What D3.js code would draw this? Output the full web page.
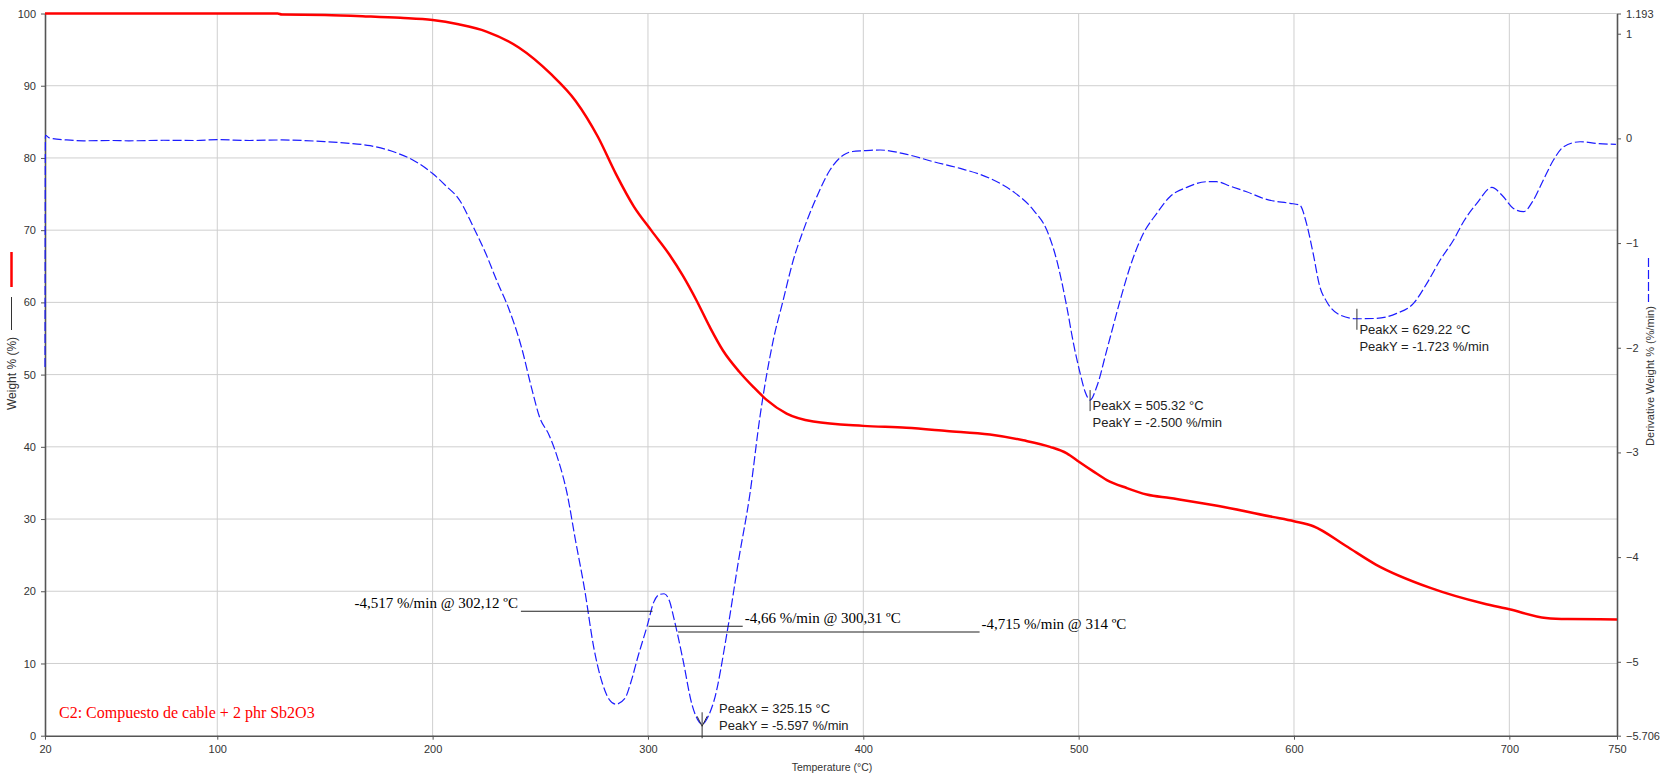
<!DOCTYPE html>
<html>
<head>
<meta charset="utf-8">
<script src="https://cdn.jsdelivr.net/npm/d3@7"></script>
<style>
  html, body { margin: 0; padding: 0; background: #fff; }
  svg { display: block; }
</style>
</head>
<body>
<svg id="chart" width="1661" height="779"></svg>
<script>
// ---------------- DATA ----------------
// Weight % (TGA) curve: [temperature °C, weight %]
const weightT = [20,60,100,128,130,150,170,185,200,212,225,240,255,266.4,276.8,285.1,293.4,301.7,310,316.2,322.5,328.7,334.9,342.4,348.9,355.1,364.4,376.8,400,420,438.8,458.8,474.3,486.7,494.5,500.3,506.8,513.1,522.3,531.6,542.4,565,590,600,609,624,638,663,688,700,717,727,750];
const weightV = [100,100,100,100,99.85,99.8,99.6,99.4,99.1,98.5,97.5,95.3,91.6,87.9,82.9,77.8,73.3,69.9,66.6,63.7,60.3,56.6,53.3,50.4,48.3,46.5,44.6,43.5,42.9,42.65,42.2,41.7,40.9,40.0,39.1,37.9,36.6,35.4,34.3,33.4,32.9,31.8,30.3,29.7,29.0,26.3,23.7,20.5,18.3,17.5,16.3,16.15,16.1];

// Derivative weight curve: [temperature °C, %/min]
const derivT = [20,20.2,22,30,38,50,59,75,90,100,115,130,150,160,171,183.5,192,200,206,212.5,218.8,225,230,235.3,241.5,245.7,249.9,254,258.2,262.3,266.4,270.6,274.8,278.9,282,285.1,289.3,292,295.5,299.6,302.7,305,307.5,310,312,316.2,320.4,323,325.15,328,330.7,336.9,342,347.4,352,358.2,362.8,367.5,372.2,378.4,384.6,390.8,395,400,407.8,420.2,432.6,445,458.8,469.7,479,485.2,489.8,494.5,497.6,500.7,503,505.32,508.4,513.1,519.3,523.9,530.1,536.3,542.4,550.2,559.5,564.1,570.2,578,587.3,598.1,602.7,605.8,608.9,612,615.2,621.4,629.22,638.4,647.7,655.5,661.7,667.9,674.1,678.7,684.9,691.9,696.5,701.9,706.6,711.2,715.8,720.5,725.2,732.9,740.7,749.5];
const derivV = [-2.185,0.03,0.005,-0.015,-0.023,-0.02,-0.023,-0.018,-0.02,-0.012,-0.02,-0.015,-0.031,-0.045,-0.07,-0.14,-0.22,-0.336,-0.45,-0.589,-0.842,-1.115,-1.37,-1.623,-2.013,-2.364,-2.676,-2.83,-3.064,-3.378,-3.846,-4.31,-4.86,-5.21,-5.36,-5.405,-5.35,-5.2,-4.94,-4.66,-4.43,-4.36,-4.35,-4.42,-4.58,-4.975,-5.405,-5.55,-5.597,-5.52,-5.37,-4.70,-4.04,-3.39,-2.66,-1.927,-1.545,-1.162,-0.876,-0.557,-0.30,-0.159,-0.125,-0.118,-0.111,-0.153,-0.223,-0.287,-0.382,-0.51,-0.685,-0.876,-1.162,-1.609,-1.959,-2.245,-2.42,-2.5,-2.373,-2.02,-1.545,-1.226,-0.907,-0.716,-0.557,-0.468,-0.414,-0.414,-0.455,-0.51,-0.583,-0.62,-0.637,-0.812,-1.099,-1.417,-1.56,-1.688,-1.723,-1.72,-1.672,-1.576,-1.385,-1.162,-0.971,-0.796,-0.621,-0.468,-0.541,-0.669,-0.70,-0.589,-0.398,-0.207,-0.08,-0.032,-0.048,-0.057];

// Axes
const xTicks = [20,100,200,300,400,500,600,700,750];
const xGrid = [100,200,300,400,500,600,700];
const leftTicks = [0,10,20,30,40,50,60,70,80,90,100];
const rightTicks = [-5,-4,-3,-2,-1,0,1];
const rightEnds = [-5.706, 1.193];

// Peak annotations
const peakX = [325.15, 505.32, 629.22];
const peakY = [-5.597, -2.500, -1.723];

// Manual onset-style annotations (value %/min, temperature °C, line end temperature)
const noteValue = [-4.517, -4.66, -4.715];
const noteTemp = [302.12, 300.31, 314];
const noteEnd = [241, 344, 454];
const noteText = ["-4,517 %/min @ 302,12 ºC", "-4,66 %/min @ 300,31 ºC", "-4,715 %/min @ 314 ºC"];

const sampleLabel = "C2: Compuesto de cable + 2 phr Sb2O3";
const xTitle = "Temperature (°C)";
const yLeftTitle = "Weight % (%)";
const yRightTitle = "Derivative Weight % (%/min)";

// ---------------- DRAW ----------------
const svg = d3.select("#chart");
const L = 45, R = 1617, T = 13.5, B = 735.7;
const x = d3.scaleLinear().domain([20, 750]).range([L, R]);
const yL = d3.scaleLinear().domain([0, 100]).range([B, T]);
const yR = d3.scaleLinear().domain([-5.706, 1.193]).range([B, T]);

const sans = "'Liberation Sans', Arial, sans-serif";
const serif = "'Liberation Serif', 'Times New Roman', serif";
const axisColor = "#555";
const gridColor = "#cfcfcf";

// grid
const g = svg.append("g");
g.selectAll(".vg").data(xGrid).join("line")
  .attr("x1", d => x(d)).attr("x2", d => x(d))
  .attr("y1", T).attr("y2", B)
  .attr("stroke", gridColor).attr("stroke-width", 1);
g.selectAll(".hg").data(leftTicks.filter(d => d > 0)).join("line")
  .attr("x1", L).attr("x2", R)
  .attr("y1", d => yL(d)).attr("y2", d => yL(d))
  .attr("stroke", gridColor).attr("stroke-width", 1);

// axes
const axStyle = sel => {
  sel.selectAll("path.domain").attr("stroke", axisColor).attr("stroke-width", 1.6);
  sel.selectAll(".tick line").attr("stroke", axisColor);
  sel.selectAll("text").attr("font-family", sans).attr("font-size", 11).attr("fill", "#333");
};
svg.append("g").attr("transform", `translate(0,${B})`)
  .call(d3.axisBottom(x).tickValues(xTicks).tickSize(4).tickSizeOuter(0).tickPadding(6))
  .call(axStyle);
svg.append("g").attr("transform", `translate(${L},0)`)
  .call(d3.axisLeft(yL).tickValues(leftTicks).tickSize(4).tickSizeOuter(0).tickPadding(5))
  .call(axStyle);
svg.append("g").attr("transform", `translate(${R},0)`)
  .call(d3.axisRight(yR).tickValues(rightTicks.concat(rightEnds)).tickSize(4).tickSizeOuter(0).tickPadding(5)
    .tickFormat(d => rightEnds.includes(d) ? d3.format(".3f")(d) : d3.format("d")(d)))
  .call(axStyle);

// curves
const wData = weightT.map((t, i) => [t, weightV[i]]);
const dData = derivT.map((t, i) => [t, derivV[i]]);

svg.append("path").datum(dData)
  .attr("fill", "none").attr("stroke", "#1c1cff").attr("stroke-width", 1.2)
  .attr("stroke-dasharray", "9,3")
  .attr("d", d3.line().x(d => x(d[0])).y(d => yR(d[1])).curve(d3.curveMonotoneX));

svg.append("path").datum(wData)
  .attr("fill", "none").attr("stroke", "#ff0000").attr("stroke-width", 2.5)
  .attr("d", d3.line().x(d => x(d[0])).y(d => yL(d[1])).curve(d3.curveMonotoneX));

// onset annotations
const ann = svg.append("g");
noteValue.forEach((v, i) => {
  ann.append("line")
    .attr("x1", x(Math.min(noteTemp[i], noteEnd[i]))).attr("x2", x(Math.max(noteTemp[i], noteEnd[i])))
    .attr("y1", yR(v)).attr("y2", yR(v))
    .attr("stroke", "#222").attr("stroke-width", 1.1);
  const left = noteEnd[i] < noteTemp[i];
  ann.append("text")
    .attr("x", left ? x(noteEnd[i]) - 3 : x(noteEnd[i]) + 2)
    .attr("y", yR(v) - 3)
    .attr("text-anchor", left ? "end" : "start")
    .attr("font-family", serif).attr("font-size", 15).attr("fill", "#000")
    .text(noteText[i]);
});

// peak markers + labels
const labelDx = [17, 2.5, 2.5];
const labelDy = [-16, 5, 10.5];
peakX.forEach((px, i) => {
  const cx = x(px), cy = yR(peakY[i]);
  if (i === 0) {
    ann.append("line").attr("x1", cx).attr("x2", cx).attr("y1", cy - 12).attr("y2", cy + 14)
      .attr("stroke", "#333").attr("stroke-width", 1);
    ann.append("path").attr("d", `M${cx - 5},${cy - 8}L${cx},${cy + 2}L${cx + 5},${cy - 8}`)
      .attr("fill", "none").attr("stroke", "#333").attr("stroke-width", 1);
  } else {
    ann.append("line").attr("x1", cx).attr("x2", cx).attr("y1", cy - 10).attr("y2", cy + 11)
      .attr("stroke", "#333").attr("stroke-width", 1);
  }
  const t = ann.append("text").attr("font-family", sans).attr("font-size", 13).attr("fill", "#222");
  t.append("tspan").attr("x", cx + labelDx[i]).attr("y", cy + labelDy[i] + 4.5)
    .text(`PeakX = ${px.toFixed(2)} °C`);
  t.append("tspan").attr("x", cx + labelDx[i]).attr("y", cy + labelDy[i] + 22.2)
    .text(`PeakY = ${peakY[i].toFixed(3)} %/min`);
});

// sample label
svg.append("text").attr("x", 59).attr("y", 718)
  .attr("font-family", serif).attr("font-size", 16).attr("fill", "#ff0000")
  .text(sampleLabel);

// axis titles
svg.append("text").attr("x", 832).attr("y", 771)
  .attr("text-anchor", "middle").attr("font-family", sans).attr("font-size", 10.5).attr("fill", "#333")
  .text(xTitle);

svg.append("text").attr("transform", "translate(16,373.5) rotate(-90)")
  .attr("text-anchor", "middle").attr("font-family", sans).attr("font-size", 12).attr("fill", "#333")
  .text(yLeftTitle);
// left legend sample
svg.append("line").attr("x1", 11.5).attr("x2", 11.5).attr("y1", 252).attr("y2", 287)
  .attr("stroke", "#ff0000").attr("stroke-width", 2.5);
svg.append("line").attr("x1", 11.5).attr("x2", 11.5).attr("y1", 297).attr("y2", 330)
  .attr("stroke", "#333").attr("stroke-width", 1);

svg.append("text").attr("transform", "translate(1654,376) rotate(-90)")
  .attr("text-anchor", "middle").attr("font-family", sans).attr("font-size", 11).attr("fill", "#333")
  .text(yRightTitle);
// right legend sample
svg.append("line").attr("x1", 1648.5).attr("x2", 1648.5).attr("y1", 258).attr("y2", 302)
  .attr("stroke", "#1c1cff").attr("stroke-width", 1.2).attr("stroke-dasharray", "9,3");
</script>
</body>
</html>
